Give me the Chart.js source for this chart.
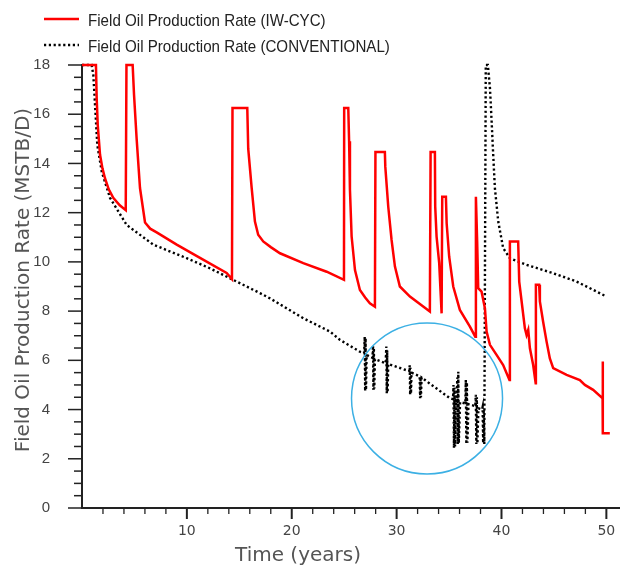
<!DOCTYPE html>
<html><head><meta charset="utf-8">
<script src="https://cdn.jsdelivr.net/npm/chart.js@4/dist/chart.umd.min.js"></script>
<style>html,body{margin:0;padding:0;background:#fff;}canvas{display:block;}</style>
</head><body>
<canvas id="c" width="620" height="571"></canvas>
<script>
// ---------- data ----------
const seriesNames = ['Field Oil Production Rate (IW-CYC)', 'Field Oil Production Rate (CONVENTIONAL)'];
const xTitle = 'Time (years)';
const yTitle = 'Field Oil Production Rate (MSTB/D)';

const iwcycTime = [0,1.33,1.4,1.5,1.72,1.95,2.19,2.55,2.98,3.6,4.17,4.24,4.83,4.96,5.21,5.53,6.01,6.5,7.12,9.03,11.25,13.79,14.3,14.35,15.76,15.85,16.18,16.49,16.8,17.28,18.0,18.88,21.1,23.33,24.98,25.0,25.39,25.47,25.55,25.71,26.03,26.5,27.0,27.45,27.93,27.98,28.88,28.92,29.2,29.52,29.84,30.31,31.27,33.17,33.24,33.65,33.68,33.81,34.06,34.29,34.35,34.7,34.77,35.01,35.4,36.03,36.99,37.5,37.56,37.68,37.73,37.78,38.1,38.42,38.58,38.9,39.53,40.16,40.76,40.8,41.59,41.69,41.92,42.23,42.39,42.55,42.71,43.02,43.26,43.28,43.59,43.66,43.97,44.3,44.61,44.93,46.21,47.47,47.95,48.74,49.64,49.65,49.67,50.33];
const iwcycRate = [18,18,16.65,15.57,14.35,13.8,13.4,12.95,12.6,12.3,12.1,18,18,16.8,15.0,13.0,11.6,11.35,11.2,10.7,10.16,9.55,9.3,16.25,16.25,14.6,13.0,11.64,11.1,10.83,10.6,10.35,9.95,9.6,9.27,16.25,16.25,14.9,12.93,11.03,9.67,8.86,8.55,8.32,8.18,14.46,14.46,13.87,12.25,10.89,9.81,9.0,8.59,7.98,14.46,14.46,12.25,11.03,9.95,7.91,12.65,12.65,11.57,10.22,9.0,8.05,7.37,6.96,12.65,10.83,10.83,8.93,8.79,8.12,7.17,6.63,6.22,5.81,5.2,10.83,10.83,9.2,8.39,7.3,7.03,7.24,6.49,5.81,5.07,9.07,9.07,8.39,7.57,6.76,6.08,5.68,5.41,5.2,5.0,4.8,4.46,5.95,3.04,3.04];

const convTime = [0,0.92,1.08,1.24,1.46,1.88,2.67,4.26,6.8,9.98,12.2,14.27,16.97,17.92,21.1,23.64,24.6,26.5,
  26.9,26.96,27.0,27.04,27.08,27.14,
  27.7,27.75,27.79,27.83,27.87,27.93,
  28.95,29.02,29.06,29.1,29.14,29.2,
  31.2,31.25,31.29,31.33,31.37,31.42,
  32.15,32.2,32.24,32.28,32.32,32.38,
  35.08,35.38,35.42,35.47,35.52,35.57,35.65,
  35.74,35.78,35.83,35.88,35.93,36.05,
  36.55,36.6,36.65,36.7,36.75,36.85,
  37.5,37.55,37.6,37.65,37.7,37.8,
  38.15,38.2,38.25,38.3,38.36,
  38.5,38.7,38.9,39.06,39.21,39.37,39.69,40.16,40.8,42.39,44.93,47.16,50.02];
const convRate = [18,18,17.6,16.4,14.75,13.67,12.6,11.5,10.7,10.15,9.74,9.3,8.73,8.52,7.71,7.17,6.83,6.35,
  6.3,6.96,4.75,6.9,4.8,6.22,
  6.1,6.6,4.8,6.5,4.85,6.05,
  5.88,6.56,4.66,6.4,4.7,5.85,
  5.56,5.8,4.6,5.7,4.65,5.5,
  5.36,5.34,4.46,5.25,4.5,5.3,
  4.46,4.42,5.0,2.44,4.9,2.5,4.38,
  4.35,5.3,2.6,5.54,2.64,4.3,
  4.25,5.2,2.6,5.1,2.65,4.22,
  4.14,4.6,2.6,4.5,2.62,4.05,
  4.0,4.1,2.64,4.0,2.6,
  18,18,17.06,15.7,14.35,13.0,11.64,10.56,10.15,9.88,9.54,9.2,8.59];

const xTickLabels = [10, 20, 30, 40, 50];
const yTickLabels = [0, 2, 4, 6, 8, 10, 12, 14, 16, 18];

// highlight circle annotation (data units)
const circleCenterTime = 32.9;
const circleCenterRate = 4.45;
const circleRadiusYears = 7.2;

// ---------- style ----------
const X_MIN = 0, X_MAX = 51.3, Y_MIN = 0, Y_MAX = 18;
const yMinorStep = 0.5, xMinorStep = 2;
const sans = '"Liberation Sans", Arial, sans-serif';
const wide = '"DejaVu Sans", Verdana, sans-serif';

const toPts = (t, v) => t.map((x, i) => ({x: x, y: v[i]}));

const decorPlugin = {
  id: 'decor',
  afterDraw(chart) {
    const {ctx, chartArea, scales: {x, y}} = chart;
    ctx.save();
    // tick marks
    ctx.strokeStyle = '#222';
    ctx.lineWidth = 1.5;
    for (let v = Y_MIN; v <= Y_MAX + 1e-9; v += yMinorStep) {
      const py = y.getPixelForValue(v);
      const major = Math.abs(v % 2) < 1e-9;
      const len = major ? 14 : 8;
      ctx.beginPath(); ctx.moveTo(chartArea.left - len, py); ctx.lineTo(chartArea.left, py); ctx.stroke();
    }
    for (let v = xMinorStep; v <= X_MAX + 1e-9; v += xMinorStep) {
      const px = x.getPixelForValue(v);
      const major = Math.abs(v % 10) < 1e-9;
      const len = major ? 11 : 6;
      ctx.lineWidth = major ? 2 : 1.3;
      ctx.beginPath(); ctx.moveTo(px, chartArea.bottom); ctx.lineTo(px, chartArea.bottom + len); ctx.stroke();
    }
    // highlight circle
    const cx = x.getPixelForValue(circleCenterTime);
    const cy = y.getPixelForValue(circleCenterRate);
    const r = x.getPixelForValue(circleCenterTime + circleRadiusYears) - cx;
    ctx.strokeStyle = '#3cb0e4';
    ctx.lineWidth = 1.5;
    ctx.beginPath(); ctx.arc(cx, cy, r, 0, Math.PI * 2); ctx.stroke();
    // axis titles
    ctx.fillStyle = '#555';
    ctx.font = '20px ' + wide;
    ctx.textAlign = 'center';
    ctx.textBaseline = 'middle';
    ctx.fillText(xTitle, 298, 556);
    ctx.save();
    ctx.translate(24, 280);
    ctx.rotate(-Math.PI / 2);
    ctx.fillText(yTitle, 0, 0);
    ctx.restore();
    // legend
    const ds = chart.data.datasets;
    const rows = [{ly: 19, ty: 21}, {ly: 45, ty: 47}];
    ds.forEach((d, i) => {
      ctx.strokeStyle = d.borderColor;
      ctx.lineWidth = d.borderWidth;
      ctx.setLineDash(d.borderDash || []);
      ctx.beginPath(); ctx.moveTo(44, rows[i].ly); ctx.lineTo(79, rows[i].ly); ctx.stroke();
      ctx.setLineDash([]);
      ctx.fillStyle = '#222';
      ctx.font = '17px ' + sans;
      ctx.textAlign = 'left';
      ctx.save();
      ctx.translate(88, rows[i].ty);
      ctx.scale(0.89, 1);
      ctx.fillText(d.label, 0, 0);
      ctx.restore();
    });
    ctx.restore();
  }
};

new Chart(document.getElementById('c'), {
  type: 'line',
  data: {
    datasets: [
      {label: seriesNames[0], data: toPts(iwcycTime, iwcycRate), borderColor: '#ff0000', borderWidth: 2.5,
       pointRadius: 0, tension: 0, fill: false, clip: false},
      {label: seriesNames[1], data: toPts(convTime, convRate), borderColor: '#000000', borderWidth: 2.4,
       borderDash: [2.2, 2.6], pointRadius: 0, tension: 0, fill: false, clip: false}
    ]
  },
  options: {
    responsive: false,
    animation: false,
    devicePixelRatio: 1,
    layout: {padding: {top: 65, right: 0, left: 0, bottom: 0}},
    plugins: {legend: {display: false}, tooltip: {enabled: false}},
    scales: {
      x: {
        type: 'linear', min: X_MIN, max: X_MAX,
        grid: {display: false, drawTicks: false},
        border: {display: true, color: '#222', width: 2},
        afterBuildTicks: s => { s.ticks = xTickLabels.map(v => ({value: v})); },
        afterFit: s => { s.height = 63; s.paddingLeft = 0; s.paddingRight = 0; },
        ticks: {padding: 15, color: '#444', font: {family: wide, size: 14}, maxRotation: 0}
      },
      y: {
        type: 'linear', min: Y_MIN, max: Y_MAX,
        grid: {display: false, drawTicks: false},
        border: {display: true, color: '#222', width: 2},
        afterBuildTicks: s => { s.ticks = yTickLabels.map(v => ({value: v})); },
        afterFit: s => { s.width = 82; },
        ticks: {padding: 32, color: '#444', font: {family: sans, size: 15}}
      }
    }
  },
  plugins: [decorPlugin]
});
</script>
</body></html>
